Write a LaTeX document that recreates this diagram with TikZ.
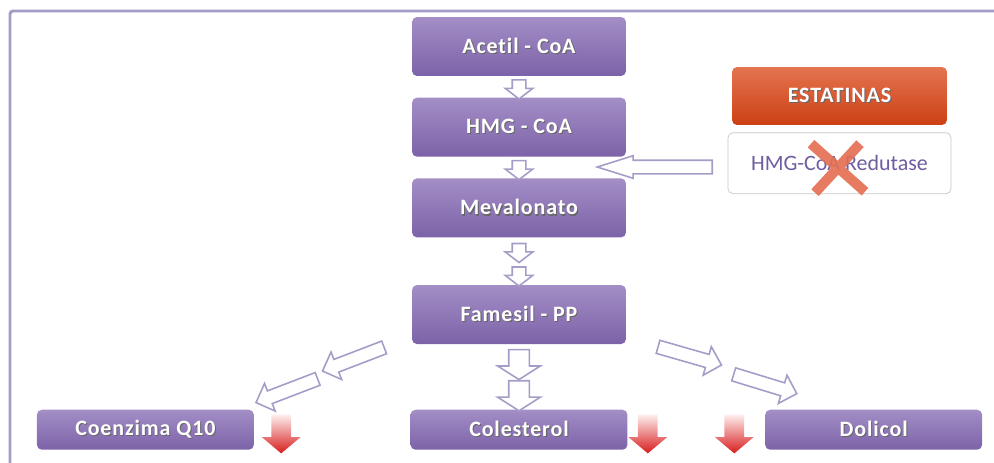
\documentclass[tikz,border=0pt]{standalone}
\usepackage{fontspec}
\setmainfont{Carlito}
\newfontfamily\labelfont{Carlito}[LetterSpace=4,Ligatures={NoCommon}]
\usetikzlibrary{positioning,shapes.arrows,calc}

\definecolor{boxtop}{RGB}{163,142,198}
\definecolor{boxbot}{RGB}{124,98,168}
\definecolor{framecol}{RGB}{166,156,200}
\definecolor{orangetop}{RGB}{228,116,80}
\definecolor{orangebot}{RGB}{204,64,20}
\definecolor{enzymetxt}{RGB}{112,94,160}
\definecolor{xcol}{RGB}{228,112,84}
\definecolor{redarrow}{RGB}{216,28,28}

% white label with a dark drop shadow
\newcommand{\shtxt}[1]{\makebox[0pt][l]{\hspace{0.6pt}\raisebox{-0.7pt}{\color{black!60}#1}}#1}

\begin{document}
\begin{tikzpicture}[x=0.02cm,y=-0.02cm,
    stage/.style={rectangle, rounded corners=0.1cm, top color=boxtop, bottom color=boxbot,
        text=white, font=\labelfont\bfseries\fontsize{12.5}{14}\selectfont,
        minimum width=4.28cm, minimum height=1.18cm, inner sep=0pt},
    product/.style={stage, minimum width=4.34cm, minimum height=0.8cm},
    hollow/.style={single arrow, draw=framecol, line width=0.9pt, fill=white, inner sep=0.12cm,
        single arrow head extend=0.14cm, single arrow tip angle=105,
        minimum width=0.52cm, minimum height=0.38cm},
    bighollow/.style={hollow, inner sep=0.19cm, single arrow head extend=0.22cm,
        single arrow tip angle=115, minimum width=0.82cm, minimum height=0.6cm},
    diag/.style={hollow, single arrow head extend=0.16cm, single arrow tip angle=90,
        minimum height=1.32cm},
    longarrow/.style={hollow, single arrow head extend=0.09cm, single arrow tip angle=35,
        minimum width=0.42cm, minimum height=2.3cm},
    reddown/.style={single arrow, shape border rotate=270, inner sep=0.19cm,
        top color=red!6, bottom color=redarrow,
        single arrow head extend=0.19cm, single arrow tip angle=100,
        minimum width=0.76cm, minimum height=0.78cm}]

    \useasboundingbox (0,0) rectangle (994,463);

    % Frame
    \draw[framecol, line width=1.7pt, rounded corners=0.06cm] (10,463) -- (10,11) -- (994,11);

    % Pathway
    \node[stage] (acetil) at (519,46.5) {\shtxt{Acetil - CoA}};
    \node[stage, below=0.42cm of acetil] (hmg) {\shtxt{HMG - CoA}};
    \node[stage, below=0.42cm of hmg] (meva) {\shtxt{Mevalonato}};
    \node[stage, below=0.94cm of meva] (famesil) {\shtxt{Famesil - PP}};
    \node[product, below=1.3cm of famesil] (coles) {\shtxt{Colesterol}};
    \node[product, left=3.12cm of coles] (coq) {\shtxt{Coenzima Q10}};
    \node[product, right=2.74cm of coles] (dolicol) {\shtxt{Dolicol}};

    % Inhibitor
    \node[rectangle, rounded corners=0.1cm, top color=orangetop, bottom color=orangebot,
        text=white, font=\labelfont\bfseries\fontsize{12.5}{14}\selectfont,
        minimum width=4.3cm, minimum height=1.16cm] (estatinas) at (839.5,96) {\shtxt{ESTATINAS}};
    \node[rectangle, rounded corners=0.1cm, draw=black!22, fill=white, text=enzymetxt,
        font=\fontsize{12.5}{14}\selectfont, minimum width=4.46cm, minimum height=1.22cm,
        below=0.14cm of estatinas] (redutase) {HMG-CoA Redutase};
    \draw[xcol, line width=0.2cm, opacity=0.92]
        ($(redutase.center)+(-28.5,-19.5)$) -- ($(redutase.center)+(25.5,28.5)$)
        ($(redutase.center)+(20.5,-19.5)$) -- ($(redutase.center)+(-24.5,29.5)$);

    % Arrows
    \node[hollow, rotate=-90] (a1) at ($(acetil.south)!.5!(hmg.north)$) {};
    \node[hollow, rotate=-90] (a2) at ($(hmg.south)!.5!(meva.north)$) {};
    \node[hollow, rotate=-90] (a3) at ($(meva.south)!.27!(famesil.north)$) {};
    \node[hollow, rotate=-90] (a4) at ($(meva.south)!.77!(famesil.north)$) {};
    \node[bighollow, rotate=-90] (b1) at ($(famesil.south)!.26!(coles.north)$) {};
    \node[bighollow, rotate=-90] (b2) at ($(famesil.south)!.74!(coles.north)$) {};
    \node[diag, rotate=201] (l1) at (356.5,358) {};
    \node[diag, rotate=201] (l2) at (290,389.5) {};
    \node[diag, rotate=-16] (r1) at (686.5,355) {};
    \node[diag, rotate=-17] (r2) at (762,383) {};
    \node[longarrow, rotate=180] (inhib) at (665.5,167) {};

    % Decrease markers
    \node[reddown] (dq) at ($(coq.east)+(27,0)$) {};
    \node[reddown] (dc) at ($(coles.east)+(20,0)$) {};
    \node[reddown] (dd) at ($(dolicol.west)+(-30.5,0)$) {};
\end{tikzpicture}
\end{document}
